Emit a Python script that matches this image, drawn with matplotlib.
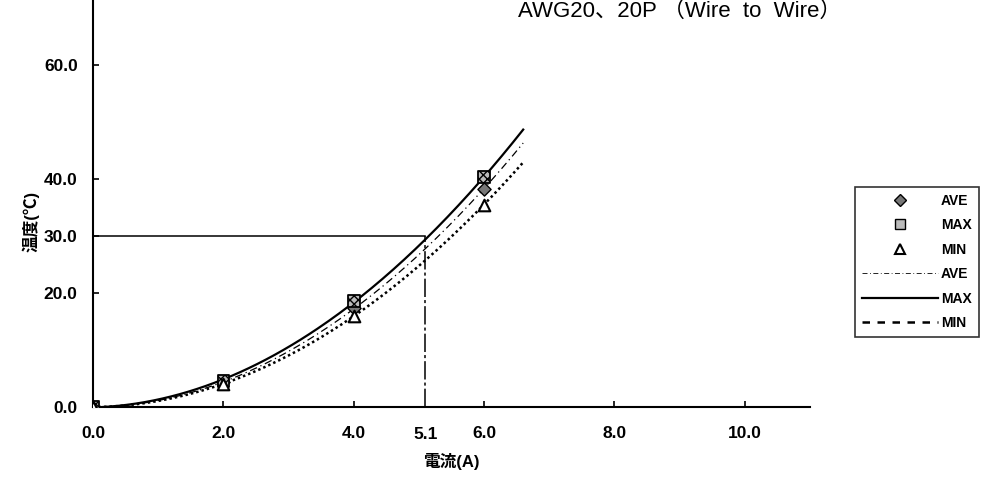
import numpy as np
import matplotlib
matplotlib.use("Agg")
import matplotlib.pyplot as plt
from matplotlib.lines import Line2D

plt.rcParams["font.family"] = ["Liberation Sans", "Noto Sans CJK JP", "DejaVu Sans"]

# measured points (current A, temperature rise degC)
current = [0.0, 2.0, 4.0, 6.0]
temp_ave = [0.0, 4.3, 17.3, 38.3]
temp_max = [0.0, 4.6, 18.6, 40.3]
temp_min = [0.0, 4.0, 16.0, 35.5]

x_ticks = [0.0, 2.0, 4.0, 6.0, 8.0, 10.0]
y_ticks = [0.0, 20.0, 40.0, 60.0]
limit_current = 5.1
limit_temp = 30.0
title = "AWG20、20P （Wire  to  Wire）"

fig = plt.figure(figsize=(9.83, 4.86), dpi=100)
ax = fig.add_axes([0.0946, 0.1626, 0.7294, 0.8374])

# trend curves (2nd order fit, like spreadsheet trendline)
xs = np.linspace(0, 6.6, 200)
fit_ave = np.polyval(np.polyfit(current, temp_ave, 2), xs)
fit_max = np.polyval(np.polyfit(current, temp_max, 2), xs)
fit_min = np.polyval(np.polyfit(current, temp_min, 2), xs)

ax.plot(xs, fit_max, color="black", lw=1.6, zorder=3)
ax.plot(xs, fit_ave, color="black", lw=0.9, ls=(0, (6, 3, 1, 3)), zorder=3)
ax.plot(xs, fit_min, color="black", lw=1.8, ls=(0, (1, 1.2)), zorder=3)

ax.scatter(current, temp_ave, marker="D", s=45, facecolor="#777777",
           edgecolor="black", lw=1, zorder=4)
ax.scatter(current, temp_max, marker="s", s=70, facecolor="#bbbbbb",
           edgecolor="black", lw=1.3, hatch="xxxx", zorder=5)
ax.scatter(current, temp_min, marker="^", s=70, facecolor="white",
           edgecolor="black", lw=1.5, zorder=5)

# 30 degC limit lines
ax.plot([0, limit_current], [limit_temp, limit_temp], color="black", lw=1.1, zorder=2)
ax.plot([limit_current, limit_current], [0, limit_temp], color="black", lw=1.1,
        ls=(0, (12, 2, 2, 2)), zorder=2)

ax.set_xlim(0, 11.0)
ax.set_ylim(0, 71.4)
for s in ["top", "right"]:
    ax.spines[s].set_visible(False)
ax.spines["left"].set_linewidth(1.5)
ax.spines["bottom"].set_linewidth(1.5)

ax.set_xticks(x_ticks)
ax.set_xticklabels([f"{v:.1f}" for v in x_ticks], fontweight="bold", fontsize=12.5)
ax.set_yticks(y_ticks + [limit_temp])
ax.set_yticklabels([f"{v:.1f}" for v in y_ticks + [limit_temp]],
                   fontweight="bold", fontsize=12.5)
ax.tick_params(axis="x", direction="in", length=4, width=1.2, pad=14)
ax.tick_params(axis="y", direction="in", length=4, width=1.2, pad=11)
ax.text(limit_current, -3.5, f"{limit_current}", ha="center", va="top",
        fontweight="bold", fontsize=12.5)

ax.set_xlabel("電流(A)", fontweight="bold", fontsize=12, labelpad=8)
ax.set_ylabel("温度(℃)", fontweight="bold", fontsize=12)
ax.yaxis.set_label_coords(-0.074, 0.455)

fig.text(680 / 983, 1 - 22 / 486, title, ha="center", va="bottom", fontsize=16)

handles = [
    Line2D([], [], ls="none", marker="D", markersize=6, markerfacecolor="#777777",
           markeredgecolor="black"),
    Line2D([], [], ls="none", marker="s", markersize=7, markerfacecolor="#bbbbbb",
           markeredgecolor="black"),
    Line2D([], [], ls="none", marker="^", markersize=7, markerfacecolor="white",
           markeredgecolor="black", markeredgewidth=1.5),
    Line2D([], [], color="black", lw=0.6, ls=(0, (6, 3, 1, 3))),
    Line2D([], [], color="black", lw=1.6),
    Line2D([], [], color="black", lw=1.8, ls=(0, (3, 3))),
]
labels = ["AVE", "MAX", "MIN", "AVE", "MAX", "MIN"]
leg = fig.legend(handles, labels, loc="upper left", bbox_to_anchor=(848 / 983, 1 - 180 / 486),
                 frameon=True, fancybox=False, edgecolor="black", handlelength=5.5,
                 handletextpad=0.2, labelspacing=0.75, borderpad=0.5,
                 prop={"weight": "bold", "size": 10})
leg.get_frame().set_linewidth(1.2)

fig.savefig("out.png", dpi=100)
